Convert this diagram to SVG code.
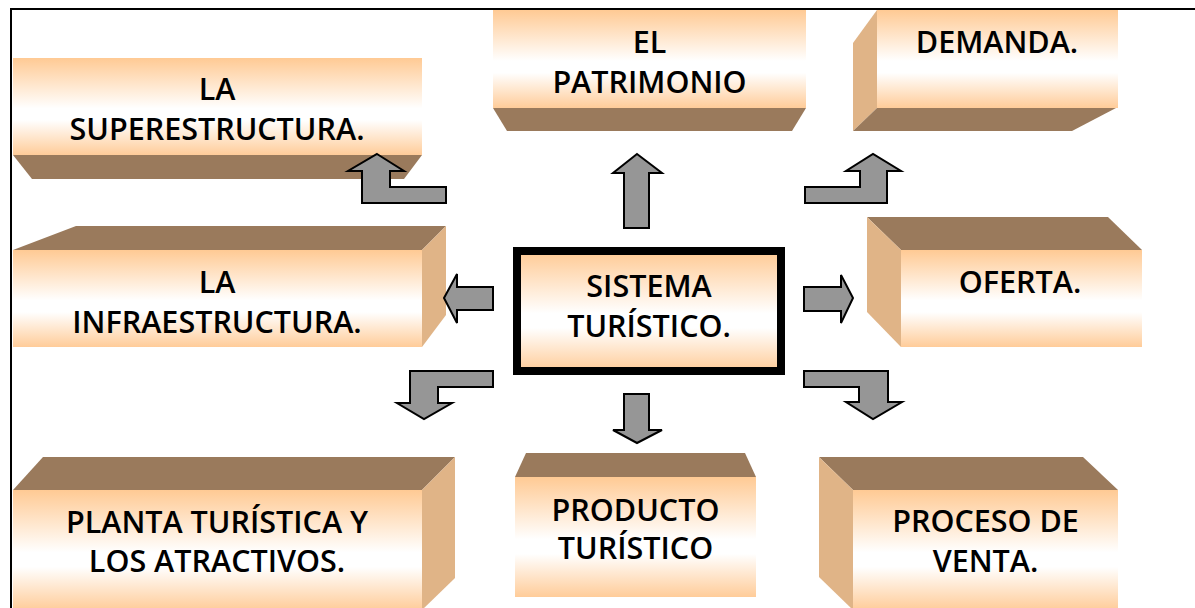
<svg xmlns="http://www.w3.org/2000/svg" width="1195" height="608" viewBox="0 0 1195 608">
<defs>
<linearGradient id="peach" x1="0" y1="0" x2="0" y2="1">
<stop offset="0" stop-color="#FFCA94"/>
<stop offset="0.52" stop-color="#FFFFFF"/>
<stop offset="0.64" stop-color="#FFFFFF"/>
<stop offset="1" stop-color="#FFCC99"/>
</linearGradient>
<style>
.face{fill:url(#peach);}
.dark{fill:#9A7A5C;}
.side{fill:#E0B487;}
.lbl{font-family:"Open Sans","DejaVu Sans",sans-serif;font-size:30.5px;font-weight:600;fill:#000;text-anchor:middle;}
.arr{fill:#969696;stroke:#000;stroke-width:2;stroke-linejoin:miter;}
.frame{fill:none;stroke:#000;stroke-width:2;}
</style>
</defs>
<rect width="1195" height="608" fill="#FFFFFF"/>
<path class="frame" d="M11,620 L11,9 L1196,9"/>

<g id="superestructura">
<rect class="face" x="13" y="58" width="409" height="97"/>
<polygon class="dark" points="13,155 422,155 404,179 32,179"/>
<text class="lbl" x="217" y="100">LA</text>
<text class="lbl" x="217" y="140">SUPERESTRUCTURA.</text>
</g>

<g id="patrimonio">
<rect class="face" x="493" y="10" width="313" height="98"/>
<polygon class="dark" points="493,108 806,108 792,131 507,131"/>
<text class="lbl" x="649.5" y="53">EL</text>
<text class="lbl" x="649.5" y="93">PATRIMONIO</text>
</g>

<g id="demanda">
<rect class="face" x="877" y="10" width="241" height="98"/>
<polygon class="side" points="853,43 877,10 877,108 853,131"/>
<polygon class="dark" points="853,131 877,108 1116,108 1072,131"/>
<text class="lbl" x="997" y="53">DEMANDA.</text>
</g>

<g id="infraestructura">
<rect class="face" x="13" y="250" width="409" height="97"/>
<polygon class="dark" points="13,250 76,226 446,226 422,250"/>
<polygon class="side" points="422,250 446,226 446,315 422,347"/>
<text class="lbl" x="217" y="293">LA</text>
<text class="lbl" x="217" y="333">INFRAESTRUCTURA.</text>
</g>

<g id="sistema">
<rect x="517" y="251" width="264" height="120" fill="url(#peach)" stroke="#000" stroke-width="8"/>
<text class="lbl" x="649" y="297">SISTEMA</text>
<text class="lbl" x="649" y="337">TURÍSTICO.</text>
</g>

<g id="oferta">
<rect class="face" x="901" y="250" width="241" height="97"/>
<polygon class="dark" points="867,217 1108,217 1142,250 901,250"/>
<polygon class="side" points="867,217 901,250 901,347 867,312"/>
<text class="lbl" x="1020" y="293">OFERTA.</text>
</g>

<g id="planta">
<rect class="face" x="13" y="490" width="409" height="120"/>
<polygon class="dark" points="13,490 43,457 455,457 422,490"/>
<polygon class="side" points="422,490 455,457 455,578 422,610"/>
<text class="lbl" x="217" y="533">PLANTA TURÍSTICA Y</text>
<text class="lbl" x="217" y="572">LOS ATRACTIVOS.</text>
</g>

<g id="producto">
<rect class="face" x="515" y="477" width="241" height="120"/>
<polygon class="dark" points="515,477 526,453 745,453 756,477"/>
<text class="lbl" x="635.5" y="521">PRODUCTO</text>
<text class="lbl" x="635.5" y="559">TURÍSTICO</text>
</g>

<g id="proceso">
<rect class="face" x="853" y="490" width="265" height="120"/>
<polygon class="dark" points="819,457 1083,457 1118,490 853,490"/>
<polygon class="side" points="819,457 853,490 853,610 819,577"/>
<text class="lbl" x="985.5" y="532">PROCESO DE</text>
<text class="lbl" x="985.5" y="572">VENTA.</text>
</g>

<g id="connectors">
<polygon class="arr" points="377,154 404,171 390,171 390,187 446,187 446,203 362,203 362,171 348,171"/>
<polygon class="arr" points="637,154 662,173 649,173 649,228 624,228 624,173 613,173"/>
<polygon class="arr" points="805,187 860,187 860,171 846,171 873,154 901,171 887,171 887,203 805,203"/>
<polygon class="arr" points="444,298 457,274 457,287 493,287 493,310 457,310 457,323"/>
<polygon class="arr" points="804,287 841,287 841,275 853,298 841,323 841,311 804,311"/>
<polygon class="arr" points="493,371 493,387 438,387 438,403 452,403 424,419 397,403 410,403 410,371"/>
<polygon class="arr" points="624,394 649,394 649,430 662,430 637,443 613,430 624,430"/>
<polygon class="arr" points="804,371 888,371 888,402 902,402 873,419 846,402 859,402 859,387 804,387"/>
</g>
</svg>
